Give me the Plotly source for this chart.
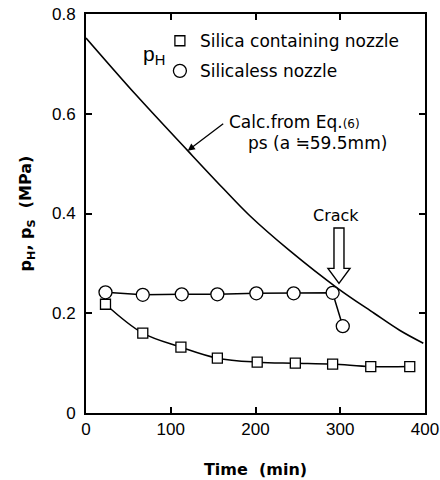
import plotly.graph_objects as go

# ---- data ----
time_silica = [23, 67, 112, 155, 202, 247, 291, 336, 382]
p_silica = [0.218, 0.160, 0.132, 0.110, 0.102, 0.100, 0.098, 0.093, 0.093]

time_silicaless = [23, 67, 113, 155, 201, 245, 291, 303]
p_silicaless = [0.242, 0.237, 0.238, 0.238, 0.240, 0.240, 0.241, 0.174]

time_calc = [0, 60, 120, 162, 193, 240, 297, 340, 370, 398]
p_calc = [0.752, 0.636, 0.526, 0.450, 0.396, 0.326, 0.250, 0.200, 0.166, 0.140]

x_ticks = [0, 100, 200, 300, 400]
y_ticks = [0, 0.2, 0.4, 0.6, 0.8]
y_ticklabels = ["0", "0.2", "0.4", "0.6", "0.8"]

FONT = "Liberation Sans, Arial, sans-serif"
WIDE = "DejaVu Sans, Verdana, sans-serif"

fig = go.Figure()

fig.add_trace(go.Scatter(
    x=time_calc, y=p_calc, mode="lines",
    line=dict(color="black", width=1.6, shape="spline"),
    showlegend=False, hoverinfo="skip"))

fig.add_trace(go.Scatter(
    x=time_silica, y=p_silica, mode="lines+markers",
    line=dict(color="black", width=1.5, shape="spline"),
    marker=dict(symbol="square", size=10, color="white",
                line=dict(color="black", width=1.3)),
    showlegend=False))

fig.add_trace(go.Scatter(
    x=time_silicaless, y=p_silicaless, mode="lines+markers",
    line=dict(color="black", width=1.5),
    marker=dict(symbol="circle", size=13, color="white",
                line=dict(color="black", width=1.3)),
    showlegend=False))

# legend-only entries
fig.add_trace(go.Scatter(
    x=[None], y=[None], mode="markers", name="Silica containing nozzle",
    legendgroup="a",
    marker=dict(symbol="square", size=10, color="white",
                line=dict(color="black", width=1.3))))
fig.add_trace(go.Scatter(
    x=[None], y=[None], mode="markers", name="Silicaless nozzle",
    legendgroup="b",
    marker=dict(symbol="circle", size=13, color="white",
                line=dict(color="black", width=1.3))))

# hollow "Crack" arrow (data coordinates)
tip_x, tip_y = 298.5, 0.260
fig.add_shape(type="path",
              path=(f"M {tip_x-5.9} 0.371 L {tip_x+5.9} 0.371 L {tip_x+5.9} 0.290 "
                    f"L {tip_x+13} 0.290 L {tip_x} {tip_y} L {tip_x-13} 0.290 "
                    f"L {tip_x-5.9} 0.290 Z"),
              xref="x", yref="y", line=dict(color="black", width=1.4),
              fillcolor="white")

annotations = [
    dict(x=295, y=0.397, xref="x", yref="y", text="Crack", showarrow=False,
         font=dict(size=16, color="black", family=WIDE)),
    dict(x=166, y=0.583, xref="x", yref="y", xanchor="left",
         text="Calc.from Eq.<span style='font-size:12px'>(6)</span>",
         showarrow=False, font=dict(size=17, color="black", family=WIDE)),
    dict(x=189, y=0.541, xref="x", yref="y", xanchor="left",
         text="ps (a ≒59.5mm)", showarrow=False,
         font=dict(size=17, color="black", family=WIDE)),
    # pointer arrow to curve
    dict(x=120, y=0.526, xref="x", yref="y", ax=37, ay=-28,
         text="", showarrow=True, arrowhead=2, arrowsize=1.1, arrowwidth=1.3,
         arrowcolor="black", standoff=0),
    dict(x=80, y=0.718, xref="x", yref="y", text="p<sub>H</sub>",
         showarrow=False, font=dict(size=21, color="black", family=FONT)),
]

fig.update_layout(
    width=440, height=480,
    margin=dict(l=86, r=15, t=14, b=67),
    plot_bgcolor="white", paper_bgcolor="white",
    font=dict(family=FONT, color="black", size=16),
    annotations=annotations,
    showlegend=True,
    legend=dict(x=0.218, y=0.977, xanchor="left", yanchor="top",
                bgcolor="rgba(0,0,0,0)", font=dict(size=17, family=WIDE),
                traceorder="grouped", tracegroupgap=5, itemwidth=30),
    xaxis=dict(range=[0, 400], tickvals=x_ticks, ticks="inside", ticklen=6,
               tickwidth=1.5, tickcolor="black", automargin=False,
               showline=True, linecolor="black", linewidth=2, mirror="allticks",
               showgrid=False, zeroline=False,
               tickfont=dict(size=17, family=FONT),
               title=dict(text="<b>Time  (min)</b>",
                          font=dict(size=16, family=WIDE), standoff=25)),
    yaxis=dict(range=[0, 0.8], tickvals=y_ticks, ticktext=y_ticklabels,
               ticks="inside", ticklen=6, tickwidth=1.5, tickcolor="black",
               automargin=False, ticklabelstandoff=5,
               showline=True, linecolor="black", linewidth=2, mirror="allticks",
               showgrid=False, zeroline=False,
               tickfont=dict(size=17, family=FONT),
               title=dict(text="<b>p<sub>H</sub>, p<sub>S</sub>  (MPa)</b>",
                          font=dict(size=16, family=WIDE), standoff=16)),
)

fig.write_html("out.html")
